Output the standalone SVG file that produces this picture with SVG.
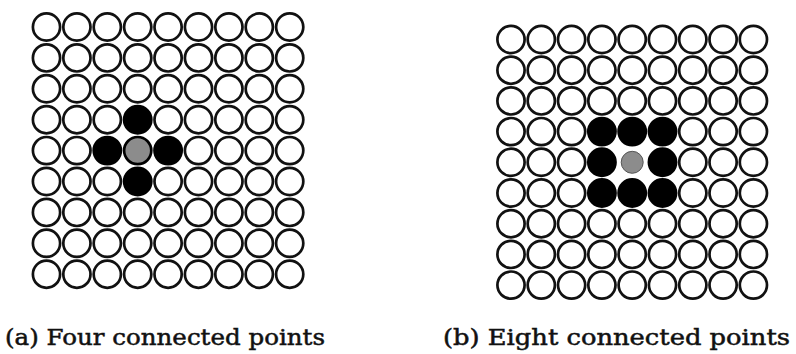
<svg xmlns="http://www.w3.org/2000/svg" width="796" height="354" viewBox="0 0 796 354">
<defs>
<style>
.o{fill:#fff;stroke:#111;stroke-width:2.7}
.b{fill:#000;stroke:#000;stroke-width:2.7}
.g{fill:#8c8c8c;stroke:#000;stroke-width:2.7}
.lbl{font-family:"DejaVu Serif","Liberation Serif",serif;font-size:22px;fill:#111;stroke:#111;stroke-width:0.5}
</style>
<circle id="c" r="13.6"/>
</defs>
<rect width="796" height="354" fill="#fff"/>
<g id="gridA" transform="translate(46.5,27)">
<g class="o">
<use href="#c" x="0" y="0"/><use href="#c" x="30.4" y="0"/><use href="#c" x="60.8" y="0"/><use href="#c" x="91.2" y="0"/><use href="#c" x="121.6" y="0"/><use href="#c" x="152" y="0"/><use href="#c" x="182.4" y="0"/><use href="#c" x="212.8" y="0"/><use href="#c" x="243.2" y="0"/>
<use href="#c" x="0" y="30.9"/><use href="#c" x="30.4" y="30.9"/><use href="#c" x="60.8" y="30.9"/><use href="#c" x="91.2" y="30.9"/><use href="#c" x="121.6" y="30.9"/><use href="#c" x="152" y="30.9"/><use href="#c" x="182.4" y="30.9"/><use href="#c" x="212.8" y="30.9"/><use href="#c" x="243.2" y="30.9"/>
<use href="#c" x="0" y="61.8"/><use href="#c" x="30.4" y="61.8"/><use href="#c" x="60.8" y="61.8"/><use href="#c" x="91.2" y="61.8"/><use href="#c" x="121.6" y="61.8"/><use href="#c" x="152" y="61.8"/><use href="#c" x="182.4" y="61.8"/><use href="#c" x="212.8" y="61.8"/><use href="#c" x="243.2" y="61.8"/>
<use href="#c" x="0" y="92.7"/><use href="#c" x="30.4" y="92.7"/><use href="#c" x="60.8" y="92.7"/><use href="#c" x="121.6" y="92.7"/><use href="#c" x="152" y="92.7"/><use href="#c" x="182.4" y="92.7"/><use href="#c" x="212.8" y="92.7"/><use href="#c" x="243.2" y="92.7"/>
<use href="#c" x="0" y="123.6"/><use href="#c" x="30.4" y="123.6"/><use href="#c" x="152" y="123.6"/><use href="#c" x="182.4" y="123.6"/><use href="#c" x="212.8" y="123.6"/><use href="#c" x="243.2" y="123.6"/>
<use href="#c" x="0" y="154.5"/><use href="#c" x="30.4" y="154.5"/><use href="#c" x="60.8" y="154.5"/><use href="#c" x="121.6" y="154.5"/><use href="#c" x="152" y="154.5"/><use href="#c" x="182.4" y="154.5"/><use href="#c" x="212.8" y="154.5"/><use href="#c" x="243.2" y="154.5"/>
<use href="#c" x="0" y="185.4"/><use href="#c" x="30.4" y="185.4"/><use href="#c" x="60.8" y="185.4"/><use href="#c" x="91.2" y="185.4"/><use href="#c" x="121.6" y="185.4"/><use href="#c" x="152" y="185.4"/><use href="#c" x="182.4" y="185.4"/><use href="#c" x="212.8" y="185.4"/><use href="#c" x="243.2" y="185.4"/>
<use href="#c" x="0" y="216.3"/><use href="#c" x="30.4" y="216.3"/><use href="#c" x="60.8" y="216.3"/><use href="#c" x="91.2" y="216.3"/><use href="#c" x="121.6" y="216.3"/><use href="#c" x="152" y="216.3"/><use href="#c" x="182.4" y="216.3"/><use href="#c" x="212.8" y="216.3"/><use href="#c" x="243.2" y="216.3"/>
<use href="#c" x="0" y="247.2"/><use href="#c" x="30.4" y="247.2"/><use href="#c" x="60.8" y="247.2"/><use href="#c" x="91.2" y="247.2"/><use href="#c" x="121.6" y="247.2"/><use href="#c" x="152" y="247.2"/><use href="#c" x="182.4" y="247.2"/><use href="#c" x="212.8" y="247.2"/><use href="#c" x="243.2" y="247.2"/>
</g>
<g class="b">
<use href="#c" x="91.2" y="92.7"/><use href="#c" x="60.8" y="123.6"/><use href="#c" x="121.6" y="123.6"/><use href="#c" x="91.2" y="154.5"/>
</g>
<use class="g" href="#c" x="91.2" y="123.6"/>
</g>
<g id="gridB" transform="translate(511,39.5)">
<g class="o">
<use href="#c" x="0" y="0"/><use href="#c" x="30.3" y="0"/><use href="#c" x="60.6" y="0"/><use href="#c" x="90.9" y="0"/><use href="#c" x="121.2" y="0"/><use href="#c" x="151.5" y="0"/><use href="#c" x="181.8" y="0"/><use href="#c" x="212.1" y="0"/><use href="#c" x="242.4" y="0"/>
<use href="#c" x="0" y="30.7"/><use href="#c" x="30.3" y="30.7"/><use href="#c" x="60.6" y="30.7"/><use href="#c" x="90.9" y="30.7"/><use href="#c" x="121.2" y="30.7"/><use href="#c" x="151.5" y="30.7"/><use href="#c" x="181.8" y="30.7"/><use href="#c" x="212.1" y="30.7"/><use href="#c" x="242.4" y="30.7"/>
<use href="#c" x="0" y="61.4"/><use href="#c" x="30.3" y="61.4"/><use href="#c" x="60.6" y="61.4"/><use href="#c" x="90.9" y="61.4"/><use href="#c" x="121.2" y="61.4"/><use href="#c" x="151.5" y="61.4"/><use href="#c" x="181.8" y="61.4"/><use href="#c" x="212.1" y="61.4"/><use href="#c" x="242.4" y="61.4"/>
<use href="#c" x="0" y="92.1"/><use href="#c" x="30.3" y="92.1"/><use href="#c" x="60.6" y="92.1"/><use href="#c" x="181.8" y="92.1"/><use href="#c" x="212.1" y="92.1"/><use href="#c" x="242.4" y="92.1"/>
<use href="#c" x="0" y="122.8"/><use href="#c" x="30.3" y="122.8"/><use href="#c" x="60.6" y="122.8"/><use href="#c" x="181.8" y="122.8"/><use href="#c" x="212.1" y="122.8"/><use href="#c" x="242.4" y="122.8"/>
<use href="#c" x="0" y="153.5"/><use href="#c" x="30.3" y="153.5"/><use href="#c" x="60.6" y="153.5"/><use href="#c" x="181.8" y="153.5"/><use href="#c" x="212.1" y="153.5"/><use href="#c" x="242.4" y="153.5"/>
<use href="#c" x="0" y="184.2"/><use href="#c" x="30.3" y="184.2"/><use href="#c" x="60.6" y="184.2"/><use href="#c" x="90.9" y="184.2"/><use href="#c" x="121.2" y="184.2"/><use href="#c" x="151.5" y="184.2"/><use href="#c" x="181.8" y="184.2"/><use href="#c" x="212.1" y="184.2"/><use href="#c" x="242.4" y="184.2"/>
<use href="#c" x="0" y="214.9"/><use href="#c" x="30.3" y="214.9"/><use href="#c" x="60.6" y="214.9"/><use href="#c" x="90.9" y="214.9"/><use href="#c" x="121.2" y="214.9"/><use href="#c" x="151.5" y="214.9"/><use href="#c" x="181.8" y="214.9"/><use href="#c" x="212.1" y="214.9"/><use href="#c" x="242.4" y="214.9"/>
<use href="#c" x="0" y="245.6"/><use href="#c" x="30.3" y="245.6"/><use href="#c" x="60.6" y="245.6"/><use href="#c" x="90.9" y="245.6"/><use href="#c" x="121.2" y="245.6"/><use href="#c" x="151.5" y="245.6"/><use href="#c" x="181.8" y="245.6"/><use href="#c" x="212.1" y="245.6"/><use href="#c" x="242.4" y="245.6"/>
</g>
<g class="b">
<use href="#c" x="90.9" y="92.1"/><use href="#c" x="121.2" y="92.1"/><use href="#c" x="151.5" y="92.1"/>
<use href="#c" x="90.9" y="122.8"/><use href="#c" x="151.5" y="122.8"/>
<use href="#c" x="90.9" y="153.5"/><use href="#c" x="121.2" y="153.5"/><use href="#c" x="151.5" y="153.5"/>
</g>
<circle cx="121.2" cy="122.8" r="11" fill="#8c8c8c" stroke="#555" stroke-width="1"/>
</g>
<g id="labels">
<text class="lbl" x="5" y="345" textLength="320" lengthAdjust="spacingAndGlyphs">(a) Four connected points</text>
<text class="lbl" x="443" y="345" textLength="347" lengthAdjust="spacingAndGlyphs">(b) Eight connected points</text>
</g>
</svg>
